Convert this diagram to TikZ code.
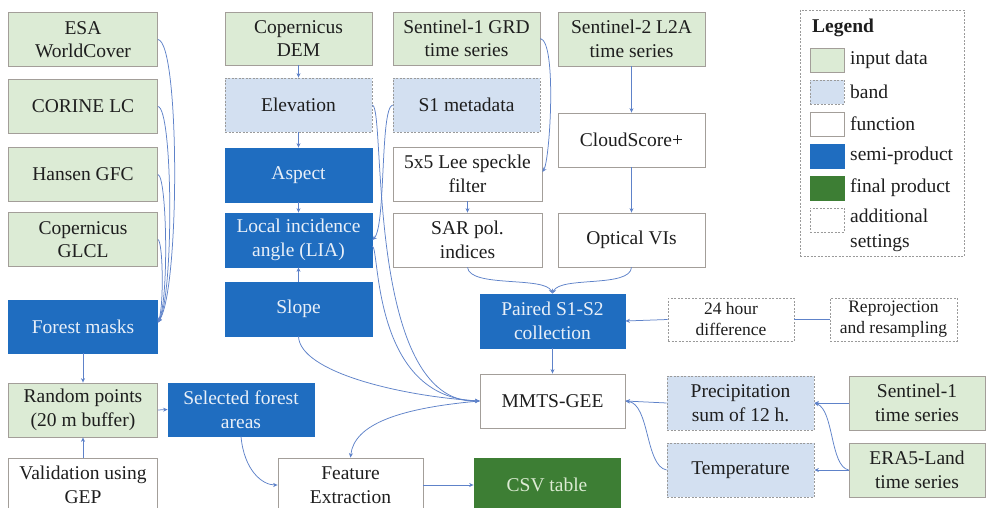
\documentclass[tikz,border=0pt]{standalone}
\usepackage{fontspec}
\setmainfont{LiberationSerif}[Extension=.ttf, UprightFont=*-Regular, BoldFont=*-Bold, ItalicFont=*-Italic, BoldItalicFont=*-BoldItalic]
\usetikzlibrary{arrows.meta,calc}
\definecolor{ingreen}{HTML}{DCEBD5}
\definecolor{bandblue}{HTML}{D3E0F1}
\definecolor{semiblue}{HTML}{1F6DC0}
\definecolor{finalgreen}{HTML}{3D7E34}
\definecolor{boxgray}{HTML}{A39E99}
\definecolor{dashgray}{HTML}{9A9A9A}
\definecolor{linkblue}{HTML}{5E82C9}
\definecolor{txtdark}{HTML}{1E1E1E}
\definecolor{semitext}{HTML}{E8EFF8}
\definecolor{finaltext}{HTML}{DCEBD3}
\tikzset{
  box/.style={draw=boxgray, line width=0.8pt, minimum width=147pt, minimum height=54pt,
    inner sep=1pt, align=center, font=\fontsize{19.5}{23.5}\selectfont, text=txtdark},
  inputbox/.style={box, fill=ingreen},
  bandbox/.style={box, fill=bandblue, draw=dashgray, dash pattern=on 2pt off 1.5pt},
  funcbox/.style={box, fill=white},
  semibox/.style={box, fill=semiblue, draw=semiblue, text=semitext},
  finalbox/.style={box, fill=finalgreen, draw=finalgreen, text=finaltext},
  addbox/.style={box, fill=white, draw=dashgray, dash pattern=on 2pt off 1.5pt},
  conn/.style={draw=linkblue, line width=0.75pt, -{Stealth[length=4.5pt,width=4pt]}},
  plainconn/.style={draw=linkblue, line width=0.75pt},
  swatch/.style={minimum width=34pt, minimum height=24pt, inner sep=0pt, line width=0.8pt},
  legtext/.style={anchor=west, inner sep=0pt, align=left, font=\fontsize{19.5}{25}\selectfont, text=txtdark},
}
\begin{document}
\begin{tikzpicture}[x=1pt,y=-1pt]
\clip (0,0) rectangle (986,508);
\fill[white] (0,0) rectangle (986,508);

% left column
\node[inputbox, minimum width=149pt] (esa) at (83,39.5) {ESA\\WorldCover};
\node[inputbox, minimum width=149pt] (corine) at (83,106.5) {CORINE LC};
\node[inputbox, minimum width=149pt] (hansen) at (83,174.5) {Hansen GFC};
\node[inputbox, minimum width=149pt] (glcl) at (83,239.5) {Copernicus\\GLCL};
\node[semibox, minimum width=149pt, minimum height=53pt] (masks) at (83,326.5) {Forest masks};
\node[inputbox, minimum width=149pt] (random) at (83,410) {Random points\\(20 m buffer)};
\node[funcbox, minimum width=149pt] (valid) at (83,485) {Validation using\\GEP};
\node[semibox, minimum width=146pt, minimum height=53pt] (selected) at (241,409.5) {Selected forest\\areas};

% second column
\node[inputbox, minimum height=53pt] (dem) at (298.5,38.5) {Copernicus\\DEM};
\node[bandbox] (elev) at (298.5,105) {Elevation};
\node[semibox] (aspect) at (298.5,175) {Aspect};
\node[semibox] (lia) at (298.5,240) {Local incidence\\angle (LIA)};
\node[semibox] (slope) at (298.5,309) {Slope};

% third column
\node[inputbox, minimum height=53pt] (s1grd) at (466.5,38.5) {Sentinel-1 GRD\\time series};
\node[bandbox] (s1meta) at (466.5,105) {S1 metadata};
\node[funcbox, minimum width=149pt] (lee) at (467.5,174) {5x5 Lee speckle\\filter};
\node[funcbox, minimum width=149pt] (sar) at (467.5,240) {SAR pol.\\indices};

% fourth column
\node[inputbox] (s2) at (631.5,39) {Sentinel-2 L2A\\time series};
\node[funcbox] (cloud) at (631.5,140) {CloudScore+};
\node[funcbox] (optical) at (631.5,240) {Optical VIs};

% lower middle
\node[semibox, minimum width=145pt] (paired) at (552.5,321) {Paired S1-S2\\collection};
\node[funcbox, minimum width=145pt] (mmts) at (552.5,401) {MMTS-GEE};
\node[funcbox, minimum width=145pt] (feat) at (350.5,485) {Feature\\Extraction};
\node[finalbox, minimum width=146pt] (csv) at (547,485) {CSV table};

% right lower
\node[addbox, minimum width=126pt, minimum height=43pt, font=\fontsize{17.5}{21}\selectfont] (diff24) at (731,319.5) {24 hour\\difference};
\node[addbox, minimum width=127pt, minimum height=43pt, font=\fontsize{17.5}{21}\selectfont] (reproj) at (893.5,319.5) {Reprojection\\and resampling};
\node[bandbox] (precip) at (740.5,403) {Precipitation\\sum of 12 h.};
\node[bandbox] (temp) at (740.5,470) {Temperature};
\node[inputbox, minimum width=136pt] (s1ts) at (917,403) {Sentinel-1\\time series};
\node[inputbox, minimum width=136pt] (era5) at (917,470) {ERA5-Land\\time series};

% legend
\node[draw=dashgray, line width=0.8pt, dash pattern=on 2pt off 1.5pt, minimum width=164pt, minimum height=246pt, inner sep=0pt] (legend) at (882,133) {};
\node[legtext, font=\fontsize{19.5}{23.5}\selectfont\bfseries] (legtitle) at (812,28) {Legend};
\node[swatch, fill=ingreen, draw=boxgray] (sw1) at (827,60) {};
\node[swatch, fill=bandblue, draw=dashgray, dash pattern=on 2pt off 1.5pt] (sw2) at (827,92) {};
\node[swatch, fill=white, draw=boxgray] (sw3) at (827,124) {};
\node[swatch, fill=semiblue, draw=semiblue] (sw4) at (827,156) {};
\node[swatch, fill=finalgreen, draw=finalgreen] (sw5) at (827,188) {};
\node[swatch, fill=white, draw=dashgray, dash pattern=on 2pt off 1.5pt] (sw6) at (827,220) {};
\node[legtext] (lt1) at (850,60) {input data};
\node[legtext] (lt2) at (850,92) {band};
\node[legtext] (lt3) at (850,124) {function};
\node[legtext] (lt4) at (850,156) {semi-product};
\node[legtext] (lt5) at (850,188) {final product};
\node[legtext] (lt6) at (850,230) {additional\\settings};

% connectors: left curves into forest masks
\coordinate (mkin) at ($(masks.east)+(0,-4)$);
\draw[conn] (esa.east) .. controls (180,42) and (180,290) .. (mkin);
\draw[conn] (corine.east) .. controls (173,108) and (174,295) .. (mkin);
\draw[conn] (hansen.east) .. controls (167,176) and (169,300) .. (mkin);
\draw[conn] (glcl.east) .. controls (163,241) and (164,306) .. (mkin);

% vertical chains
\draw[conn] (dem.south) -- (elev.north);
\draw[conn] (elev.south) -- (aspect.north);
\draw[conn] (aspect.south) -- (lia.north);
\draw[conn] (slope.north) -- (lia.south);
\draw[conn] (lee.south) -- (sar.north);
\draw[conn] (s2.south) -- (cloud.north);
\draw[conn] (cloud.south) -- (optical.north);
\draw[conn] (paired.south) -- (mmts.north);
\draw[conn] (masks.south) -- (random.north);
\draw[conn] (valid.north) -- (random.south);
\draw[conn] (random.east) -- (selected.west);
\draw[conn] (feat.east) -- (csv.west);

% S1 chain
\draw[conn] (s1grd.east) .. controls (557,42) and (550,160) .. ($(lee.east)+(0,-2)$);
\draw[conn] (s1meta.west) .. controls (380,108) and (386,226) .. (lia.east);

% into paired
\draw[conn] (sar.south) .. controls (470,288) and (545,276) .. (paired.north);
\draw[conn] (optical.south) .. controls (630,288) and (560,276) .. (paired.north);
\draw[conn] (diff24.west) -- (paired.east);
\draw[plainconn] (reproj.west) -- (diff24.east);

% into MMTS-GEE
\draw[conn] (elev.east) .. controls (386,108) and (365,405) .. (mmts.west);
\draw[conn] ($(lia.east)+(0,6)$) .. controls (380,250) and (372,398) .. (mmts.west);
\draw[conn] (slope.south) .. controls (300,372) and (400,396) .. (mmts.west);
\draw[conn] (precip.west) -- (mmts.east);
\draw[conn] (temp.west) .. controls (645,466) and (650,404) .. (mmts.east);
\draw[conn] (mmts.west) .. controls (400,408) and (354,424) .. (feat.north);

% era / s1 time series
\draw[conn] (s1ts.west) -- (precip.east);
\draw[conn] (era5.west) -- (temp.east);
\draw[conn] (era5.west) .. controls (830,466) and (834,410) .. (precip.east);

% selected areas to feature extraction
\draw[conn] (selected.south) .. controls (244,470) and (262,485) .. (feat.west);
\end{tikzpicture}
\end{document}
